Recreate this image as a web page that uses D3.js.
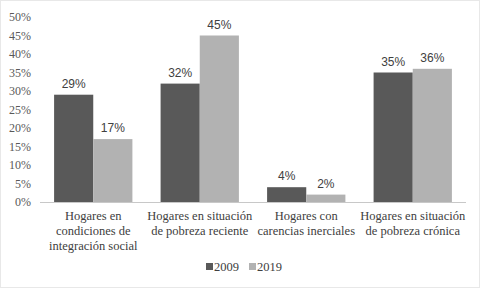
<!DOCTYPE html>
<html>
<head>
<meta charset="utf-8">
<script src="https://cdn.jsdelivr.net/npm/d3@7"></script>
<style>
  body { margin: 0; background: #fff; }
  .serif { font-family: 'Liberation Serif', 'Times New Roman', serif; }
  .sans { font-family: 'Liberation Sans', Arial, sans-serif; }
</style>
</head>
<body>
<div id="chart"></div>
<script>
// chart data
var categories = [
  ["Hogares en", "condiciones de", "integración social"],
  ["Hogares en situación", "de pobreza reciente"],
  ["Hogares con", "carencias inerciales"],
  ["Hogares en situación", "de pobreza crónica"]
];
var series = ["2009", "2019"];
var values2009 = [29, 32, 4, 35];
var values2019 = [17, 45, 2, 36];
var yTicks = [0, 5, 10, 15, 20, 25, 30, 35, 40, 45, 50];

var colors = {"2009": "#595959", "2019": "#b2b2b2"};

var W = 480, H = 288;
var margin = {top: 17, right: 14, bottom: 86, left: 40};

var svg = d3.select("#chart").append("svg")
    .attr("width", W)
    .attr("height", H);

// chart border
svg.append("rect")
    .attr("x", 0.5).attr("y", 0.5)
    .attr("width", W - 1).attr("height", H - 1)
    .attr("fill", "none")
    .attr("stroke", "#d0d0d0")
    .attr("stroke-dasharray", "1,1");

var x = d3.scaleBand()
    .domain(d3.range(categories.length))
    .range([margin.left, W - margin.right]);

var y = d3.scaleLinear()
    .domain([0, 50])
    .range([H - margin.bottom, margin.top]);

var xSub = d3.scaleBand()
    .domain(series)
    .range([0, x.bandwidth()])
    .paddingInner(0)
    .paddingOuter(0.36);

// y axis labels
svg.append("g")
  .selectAll("text")
  .data(yTicks)
  .enter()
  .append("text")
    .attr("class", "serif")
    .attr("x", 31)
    .attr("y", function(d) { return y(d); })
    .attr("dy", "0.35em")
    .attr("text-anchor", "end")
    .attr("font-size", "12px")
    .attr("fill", "#595959")
    .text(function(d) { return d + "%"; });

var rows = categories.map(function(c, i) {
  return [{s: "2009", v: values2009[i], i: i}, {s: "2019", v: values2019[i], i: i}];
});

var groups = svg.append("g")
  .selectAll("g")
  .data(rows)
  .enter()
  .append("g")
    .attr("transform", function(d, i) { return "translate(" + x(i) + ",0)"; });

groups.selectAll("rect")
  .data(function(d) { return d; })
  .enter()
  .append("rect")
    .attr("x", function(d) { return xSub(d.s); })
    .attr("y", function(d) { return y(d.v); })
    .attr("width", xSub.bandwidth())
    .attr("height", function(d) { return y(0) - y(d.v); })
    .attr("fill", function(d) { return colors[d.s]; });

groups.selectAll("text")
  .data(function(d) { return d; })
  .enter()
  .append("text")
    .attr("class", "sans")
    .attr("x", function(d) { return xSub(d.s) + xSub.bandwidth() / 2; })
    .attr("y", function(d) { return y(d.v) - 7; })
    .attr("text-anchor", "middle")
    .attr("font-size", "12px")
    .attr("fill", "#404040")
    .text(function(d) { return d.v + "%"; });

// baseline
svg.append("line")
    .attr("x1", margin.left).attr("x2", W - margin.right)
    .attr("y1", y(0) + 0.5).attr("y2", y(0) + 0.5)
    .attr("stroke", "#c8c8c8");

// category labels
var catG = svg.append("g")
  .selectAll("text")
  .data(categories)
  .enter()
  .append("text")
    .attr("class", "serif")
    .attr("text-anchor", "middle")
    .attr("font-size", "12.5px")
    .attr("fill", "#404040")
    .attr("transform", function(d, i) { return "translate(" + (x(i) + x.bandwidth() / 2) + "," + (y(0) + 18) + ")"; });

catG.selectAll("tspan")
  .data(function(d) { return d; })
  .enter()
  .append("tspan")
    .attr("x", 0)
    .attr("y", function(d, j) { return j * 15; })
    .text(function(d) { return d; });

// legend
var legend = svg.append("g")
  .selectAll("g")
  .data(series)
  .enter()
  .append("g")
    .attr("transform", function(d, i) { return "translate(" + (206 + i * 43) + ",267)"; });

legend.append("rect")
    .attr("x", 0).attr("y", -4)
    .attr("width", 7).attr("height", 7)
    .attr("fill", function(d) { return colors[d]; });

legend.append("text")
    .attr("class", "serif")
    .attr("x", 8)
    .attr("y", 0)
    .attr("dy", "0.35em")
    .attr("font-size", "12.5px")
    .attr("fill", "#404040")
    .text(function(d) { return d; });
</script>
</body>
</html>
